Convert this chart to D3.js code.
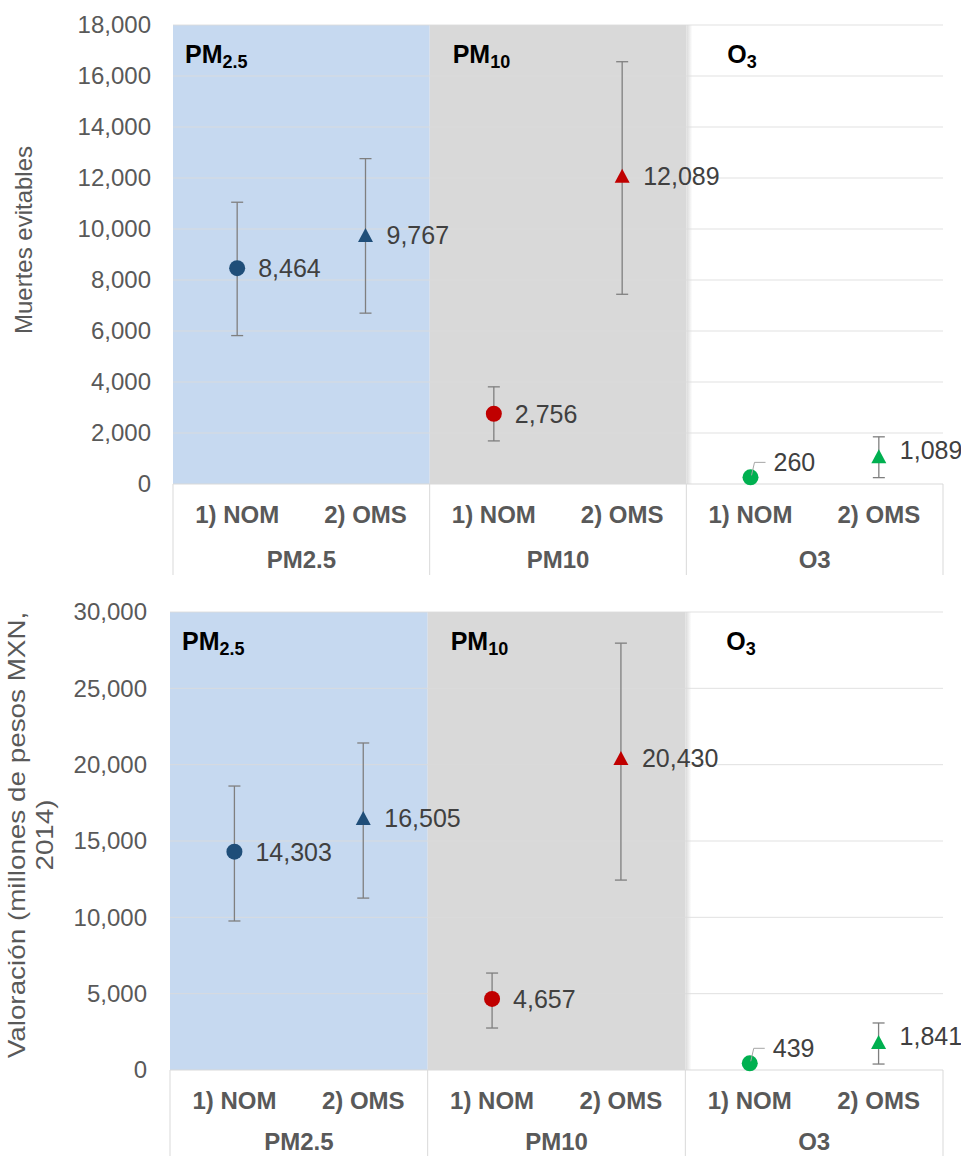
<!DOCTYPE html>
<html>
<head>
<meta charset="utf-8">
<script src="https://cdn.jsdelivr.net/npm/d3@7"></script>
<style>
  html, body { margin: 0; padding: 0; background: #fff; }
  svg { display: block; font-family: "Liberation Sans", Arial, sans-serif; }
</style>
</head>
<body>
<svg id="chart" width="961" height="1156"></svg>
<script>
// Pollutant groups and scenarios on the category axis
const groups = ["PM2.5", "PM10", "O3"];
const scenarios = ["1) NOM", "2) OMS"];

// Avoidable deaths: central estimate and confidence interval (NOM, OMS per pollutant)
const deaths     = [8464, 9767, 2756, 12089, 260, 1089];
const deathsLow  = [5820, 6700, 1690, 7440, 180, 250];
const deathsHigh = [11050, 12760, 3810, 16560, 340, 1850];

// Valuation, millions of MXN (2014)
const valuation     = [14303, 16505, 4657, 20430, 439, 1841];
const valuationLow  = [9760, 11260, 2750, 12440, 330, 390];
const valuationHigh = [18600, 21420, 6350, 27960, 550, 3080];

// Y axis ticks
const deathsTicks = [0, 2000, 4000, 6000, 8000, 10000, 12000, 14000, 16000, 18000];
const valuationTicks = [0, 5000, 10000, 15000, 20000, 25000, 30000];

// Panel headers: main text and subscript
const headerMain = ["PM", "PM", "O"];
const headerSub = ["2.5", "10", "3"];

// Styling
const markerColors = ["#1f4e79", "#c00000", "#00b050"];
const bandColors = ["#c6d9f0", "#d9d9d9", "#ffffff"];
const headerOffsets = [12, 23, 41];
const fmt = d3.format(",");

const svg = d3.select("#chart");
const defs = svg.append("defs");
const fade = defs.append("linearGradient").attr("id", "grayFade");
fade.append("stop").attr("offset", "0%").attr("stop-color", "#d9d9d9");
fade.append("stop").attr("offset", "100%").attr("stop-color", "#ffffff");

function drawPanel(cfg) {
  const g = svg.append("g");
  const y = d3.scaleLinear().domain([0, cfg.max]).range([cfg.yBot, cfg.yTop]);
  const gx = d3.scaleBand().domain(groups).range([cfg.x0, cfg.x1]);
  const sx = d3.scaleBand().domain(scenarios).range([0, gx.bandwidth()]);
  const xPos = (gi, si) => gx(groups[gi]) + sx(scenarios[si]) + sx.bandwidth() / 2;

  // Background bands per pollutant
  g.selectAll("rect.band").data(groups).join("rect")
    .attr("class", "band")
    .attr("x", d => gx(d)).attr("y", cfg.yTop)
    .attr("width", gx.bandwidth()).attr("height", cfg.yBot - cfg.yTop)
    .attr("fill", (d, i) => bandColors[i]);
  g.append("rect")
    .attr("x", gx(groups[2])).attr("y", cfg.yTop)
    .attr("width", 6).attr("height", cfg.yBot - cfg.yTop)
    .attr("fill", "url(#grayFade)");

  // Gridlines
  g.selectAll("line.grid").data(cfg.ticks.filter(t => t > 0)).join("line")
    .attr("class", "grid")
    .attr("x1", cfg.x0).attr("x2", cfg.x1)
    .attr("y1", d => y(d)).attr("y2", d => y(d))
    .attr("stroke", "#dcdcdc").attr("stroke-opacity", 0.85).attr("stroke-width", 1);

  // Y axis labels
  const ax = g.append("g")
    .attr("transform", `translate(${cfg.x0},0)`)
    .call(d3.axisLeft(y).tickValues(cfg.ticks).tickFormat(fmt).tickSize(0).tickPadding(cfg.tickPad));
  ax.select(".domain").remove();
  ax.selectAll("text")
    .attr("font-size", 24).attr("fill", "#595959")
    .attr("font-family", "'Liberation Sans', Arial, sans-serif");

  // Category axis frame
  g.append("line")
    .attr("x1", cfg.x0).attr("x2", cfg.x1)
    .attr("y1", cfg.yBot).attr("y2", cfg.yBot)
    .attr("stroke", "#d9d9d9");
  const seps = groups.map(d => gx(d)).concat([cfg.x1]);
  g.selectAll("line.sep").data(seps).join("line")
    .attr("class", "sep")
    .attr("x1", d => d).attr("x2", d => d)
    .attr("y1", cfg.yBot).attr("y2", cfg.axisBottom)
    .attr("stroke", "#d9d9d9");

  // Scenario and pollutant labels
  groups.forEach((grp, gi) => {
    scenarios.forEach((sc, si) => {
      g.append("text")
        .attr("x", xPos(gi, si)).attr("y", cfg.yBot + 30)
        .attr("text-anchor", "middle").attr("dominant-baseline", "central")
        .attr("font-size", 24).attr("font-weight", "bold").attr("fill", "#595959")
        .text(sc);
    });
    g.append("text")
      .attr("x", gx(grp) + gx.bandwidth() / 2).attr("y", cfg.yBot + cfg.groupLabelDy)
      .attr("text-anchor", "middle").attr("dominant-baseline", "central")
      .attr("font-size", 24).attr("font-weight", "bold").attr("fill", "#595959")
      .text(grp);

    // Header with subscript
    const h = g.append("text")
      .attr("x", gx(grp) + headerOffsets[gi]).attr("y", cfg.yTop + 38)
      .attr("font-weight", "bold").attr("fill", "#000");
    h.append("tspan").attr("font-size", 25).text(headerMain[gi]);
    h.append("tspan").attr("font-size", 18).attr("dy", 5).text(headerSub[gi]);
  });

  // Points with error bars
  const pts = [];
  groups.forEach((grp, gi) => scenarios.forEach((sc, si) => {
    const k = gi * 2 + si;
    pts.push({ gi, si, v: cfg.values[k], lo: cfg.low[k], hi: cfg.high[k] });
  }));

  const capW = 6;
  pts.forEach(p => {
    const x = xPos(p.gi, p.si);
    const pg = g.append("g");
    pg.append("line").attr("x1", x).attr("x2", x).attr("y1", y(p.lo)).attr("y2", y(p.hi))
      .attr("stroke", "#7f7f7f").attr("stroke-width", 1.3);
    [p.lo, p.hi].forEach(e => {
      pg.append("line").attr("x1", x - capW).attr("x2", x + capW).attr("y1", y(e)).attr("y2", y(e))
        .attr("stroke", "#7f7f7f").attr("stroke-width", 1.3);
    });
    const cy = y(p.v);
    const color = markerColors[p.gi];
    if (p.si === 0) {
      pg.append("circle").attr("cx", x).attr("cy", cy).attr("r", 8).attr("fill", color);
    } else {
      pg.append("path")
        .attr("d", `M${x},${cy - 7}L${x + 7.5},${cy + 7}L${x - 7.5},${cy + 7}Z`)
        .attr("fill", color);
    }
    // Value label; small values get a leader line
    const small = p.gi === 2 && p.si === 0;
    let lx = x + 21, ly = cy;
    if (small) {
      ly = cy - 15;
      pg.append("polyline")
        .attr("points", `${x + 1},${cy - 2} ${x + 4},${ly} ${x + 15},${ly}`)
        .attr("fill", "none").attr("stroke", "#a6a6a6").attr("stroke-width", 1);
      lx = x + 23;
    } else if (p.gi === 2) {
      ly = cy - 6;
    }
    pg.append("text")
      .attr("x", lx).attr("y", ly)
      .attr("dominant-baseline", "central")
      .attr("font-size", 25).attr("fill", "#404040")
      .text(fmt(p.v));
  });

  // Axis title
  const t = g.append("text")
    .attr("transform", `translate(0,${cfg.titleY}) rotate(-90) scale(${cfg.titleStretch},1)`)
    .attr("text-anchor", "middle")
    .attr("font-size", 24).attr("fill", "#595959");
  cfg.title.forEach((line, i) => {
    t.append("tspan").attr("x", 0).attr("y", cfg.titleBase[i]).text(line);
  });
}

drawPanel({
  x0: 173, x1: 943, yTop: 25, yBot: 484, axisBottom: 575, max: 18000,
  ticks: deathsTicks, tickPad: 22, groupLabelDy: 75,
  values: deaths, low: deathsLow, high: deathsHigh,
  title: ["Muertes evitables"], titleBase: [32], titleY: 240, titleStretch: 1
});

drawPanel({
  x0: 170, x1: 943, yTop: 612, yBot: 1070, axisBottom: 1156, max: 30000,
  ticks: valuationTicks, tickPad: 23, groupLabelDy: 71,
  values: valuation, low: valuationLow, high: valuationHigh,
  title: ["Valoración (millones de pesos MXN,", "2014)"], titleBase: [25, 53], titleY: 835, titleStretch: 1.16
});
</script>
</body>
</html>
